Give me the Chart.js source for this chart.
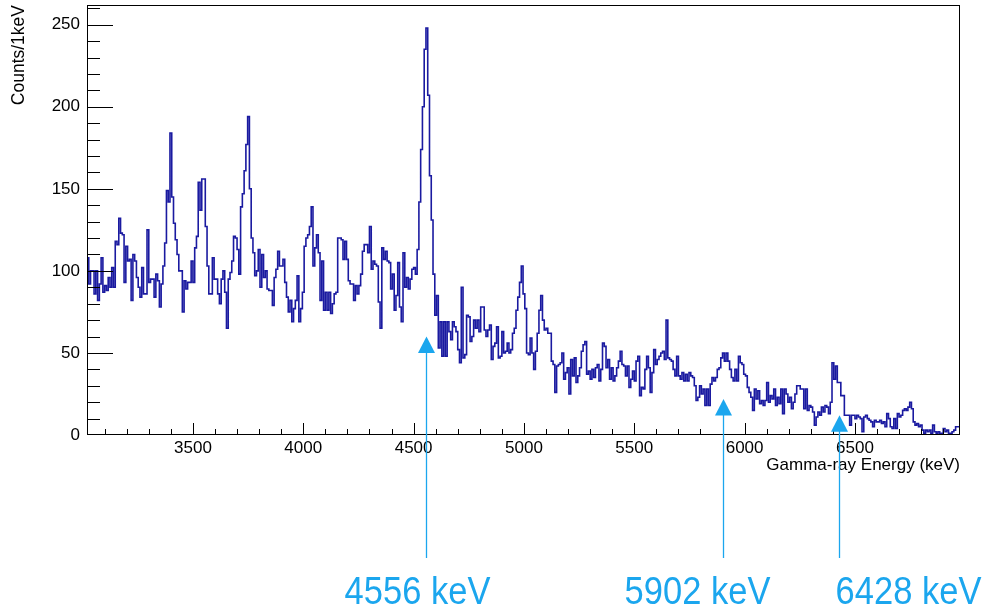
<!DOCTYPE html>
<html>
<head>
<meta charset="utf-8">
<script src="https://cdn.jsdelivr.net/npm/chart.js@4.4.0/dist/chart.umd.min.js"></script>
<style>
  html, body { margin: 0; padding: 0; background: #fff; }
  #wrap { position: relative; width: 983px; height: 609px; }
</style>
</head>
<body>
<div id="wrap"><canvas id="spectrumChart"></canvas></div>
<script>
// histogram: 8 keV bins starting at 3020 keV, counts per 1 keV
const binStart = 3020;
const binWidth = 8;

const countsLow = [
  108, 92, 100, 100, 86, 100, 82, 92, 108, 87,
  91, 88, 96, 90, 102, 90, 118, 116, 132, 123,
  122, 93, 115, 106, 107, 82, 110, 106, 96, 90,
  84, 102, 86, 86, 125, 93, 95, 95, 84, 98,
  94, 78, 92, 103, 117, 149, 142, 184, 145, 129,
  119, 110, 100, 100, 75, 94, 89, 93, 93, 106,
  93, 114, 121, 154,
  137, 156, 156, 127, 103, 86, 86, 108, 95, 95,
  86, 80, 95, 100, 87, 65, 95, 99, 106, 121,
  120, 113, 98, 139, 147, 161, 177, 194, 150, 120,
  111, 97, 100, 113, 90, 110, 96, 100, 89, 88,
  88, 79, 96, 101, 112, 103, 103, 107, 93, 84,
  75, 82, 69, 77, 82, 97, 69, 77, 87, 115,
  120, 122, 127, 139, 103, 114, 122, 111, 82, 106,
  76, 87, 76, 87, 74, 80, 86, 87, 120, 120,
  119, 107, 118, 107, 94, 92, 92, 82, 91, 86,
  91, 98, 112, 116, 116, 111, 127, 101, 106, 104,
  103, 81, 65, 114, 107, 112, 106, 105, 89, 98,
  76, 85, 105, 78, 69
];
const countsMid = [
  111, 90, 96, 89, 95, 101, 102, 98, 113, 142,
  174, 200, 235, 248, 207, 158, 131, 98, 73, 85,
  53, 69, 48, 69, 48, 69, 63, 58, 69,
  66, 63, 52, 44, 90, 47, 49, 73, 72, 57,
  60, 70, 65, 70, 63, 78, 78, 64, 60, 64,
  67, 46, 54, 56, 66, 47, 48, 63, 50, 51,
  56, 50, 52, 62, 65, 76, 84, 93, 103, 86,
  77, 50, 49, 59, 50, 40, 51, 62, 76, 85,
  70, 64, 65, 62, 62, 45, 43, 26, 42, 43,
  44, 50, 34
];
const countsHigh = [
  38, 41, 25, 46, 36, 47, 32, 36, 41, 51,
  55, 57, 37, 39, 34, 40, 35, 41, 43, 33,
  40, 56, 54, 41, 46, 34, 41, 33, 36, 41,
  45, 51, 43, 42, 36, 42, 29, 34, 39, 33,
  45, 48, 24, 29, 28, 40, 48, 41, 26, 38,
  52, 43, 46, 48, 50, 51, 46, 70, 47, 46,
  45, 40, 36, 48,
  36, 34, 38, 33, 37, 33, 38, 36, 35, 30,
  21, 23, 30, 25, 28, 18, 28, 18, 31, 35,
  33, 35, 40, 41, 47, 50, 45, 50, 45, 40,
  35, 33, 40, 33, 48, 44, 43, 37, 36, 29,
  26, 23, 15, 28, 22, 27, 19, 21, 18, 21,
  32, 20, 24, 22, 28, 18, 23, 19, 28, 13,
  28, 25, 20, 23,
  16, 20, 25, 30, 30, 28, 28, 16, 28, 15,
  18, 17, 14, 6, 11, 14, 12, 17, 14, 18,
  17, 13, 20, 44, 34, 42, 32, 32, 24, 24,
  12, 12, 12, 6, 12, 12, 10, 12, 11, 10,
  2, 11, 12, 10, 9, 8, 5, 9, 8, 8,
  9, 7, 8, 5, 13, 10, 5, 4, 10, 4,
  13, 11, 12, 15, 16, 15, 17, 20, 16, 8,
  6, 7, 5, 6, 3, 1, 3, 2, 3, 1,
  6, 2, 1, 2, 1, 1, 4, 2, 3, 1,
  1, 2, 3, 5, 5
];

const xTicks = [3500, 4000, 4500, 5000, 5500, 6000, 6500];
const yTicks = [0, 50, 100, 150, 200, 250];

// marked gamma lines
const lineEnergies = [4556, 5902, 6428];
const lineLabels = ["4556 keV", "5902 keV", "6428 keV"];
const arrowTips = [60, 22, 12];

const counts = countsLow.concat(countsMid, countsHigh);
const histPoints = counts.map((c, i) => ({ x: binStart + i * binWidth, y: c }));
histPoints.push({ x: binStart + counts.length * binWidth, y: counts[counts.length - 1] });

const markerColor = "#1ba6ee";
const labelShift = [-9, -26, 69];

// ROOT style frame with inside tick marks
const rootFrame = {
  id: "rootFrame",
  afterDatasetsDraw(chart) {
    const { ctx, chartArea: a, scales: { x, y } } = chart;
    ctx.save();
    ctx.strokeStyle = "#000";
    ctx.lineWidth = 1;
    ctx.beginPath();
    for (let e = Math.ceil(x.min / 100) * 100; e <= x.max; e += 100) {
      const px = Math.round(x.getPixelForValue(e)) + 0.5;
      const len = e % 500 === 0 ? 12 : 6;
      ctx.moveTo(px, a.bottom);
      ctx.lineTo(px, a.bottom - len);
    }
    for (let c = 10; c <= y.max; c += 10) {
      const py = Math.round(y.getPixelForValue(c)) + 0.5;
      const len = c % 50 === 0 ? 26 : 13;
      ctx.moveTo(a.left, py);
      ctx.lineTo(a.left + len, py);
    }
    ctx.stroke();
    ctx.strokeRect(a.left + 0.5, a.top + 0.5, a.width - 1, a.height - 1);
    ctx.restore();
  },
};

const lineMarkers = {
  id: "lineMarkers",
  afterDraw(chart) {
    const { ctx, chartArea: a, scales: { x, y } } = chart;
    ctx.save();
    ctx.strokeStyle = markerColor;
    ctx.fillStyle = markerColor;
    ctx.lineWidth = 1.3;
    lineEnergies.forEach((e, i) => {
      const px = Math.round(x.getPixelForValue(e)) + 0.5;
      const tip = y.getPixelForValue(arrowTips[i]);
      ctx.beginPath();
      ctx.moveTo(px, tip + 14);
      ctx.lineTo(px, a.bottom + 123);
      ctx.stroke();
      ctx.beginPath();
      ctx.moveTo(px, tip);
      ctx.lineTo(px - 8.5, tip + 16.5);
      ctx.lineTo(px + 8.5, tip + 16.5);
      ctx.closePath();
      ctx.fill();
      ctx.save();
      ctx.translate(px + labelShift[i], a.bottom + 169);
      ctx.scale(1, 1.15);
      ctx.font = '34.5px "Liberation Sans", Arial, sans-serif';
      ctx.textAlign = "center";
      ctx.textBaseline = "alphabetic";
      ctx.fillText(lineLabels[i], 0, 0);
      ctx.restore();
    });
    ctx.restore();
  },
};

Chart.defaults.font.family = '"Liberation Sans", Arial, Helvetica, sans-serif';
Chart.defaults.color = "#000";

const spectrumChart = document.getElementById("spectrumChart");

new Chart(spectrumChart, {
  type: "line",
  data: {
    datasets: [
      {
        data: histPoints,
        stepped: true,
        borderColor: "#1a1aa0",
        borderWidth: 1.6,
        pointRadius: 0,
        fill: false,
      },
    ],
  },
  options: {
    responsive: true,
    maintainAspectRatio: false,
    animation: false,
    events: [],
    layout: {
      padding: { left: 0, top: 5, right: 23, bottom: 0 },
    },
    plugins: {
      legend: { display: false },
      tooltip: { enabled: false },
    },
    scales: {
      x: {
        type: "linear",
        min: 3020,
        max: 6976,
        grid: { display: false, drawTicks: false },
        border: { display: false },
        afterBuildTicks: (s) => {
          s.ticks = xTicks.map((v) => ({ value: v }));
        },
        afterFit: (s) => {
          s.height = 174;
          s.paddingLeft = 0;
          s.paddingRight = 0;
        },
        ticks: {
          font: { size: 17 },
          padding: 3,
          maxRotation: 0,
          autoSkip: false,
          callback: (v) => String(v),
        },
        title: {
          display: true,
          text: "Gamma-ray Energy (keV)",
          align: "end",
          font: { size: 17 },
          padding: { top: 0, bottom: 133 },
        },
      },
      y: {
        min: 0,
        max: 262,
        grid: { display: false, drawTicks: false },
        border: { display: false },
        afterBuildTicks: (s) => {
          s.ticks = yTicks.map((v) => ({ value: v }));
        },
        afterFit: (s) => {
          s.width = 87;
          s.paddingTop = 0;
          s.paddingBottom = 0;
        },
        ticks: {
          font: { size: 17 },
          padding: 7,
          callback: (v) => String(v),
        },
        title: {
          display: true,
          text: "Counts/1keV",
          align: "end",
          font: { size: 17.5 },
          padding: { top: 9, bottom: 0 },
        },
      },
    },
  },
  plugins: [rootFrame, lineMarkers],
});
</script>
</body>
</html>
